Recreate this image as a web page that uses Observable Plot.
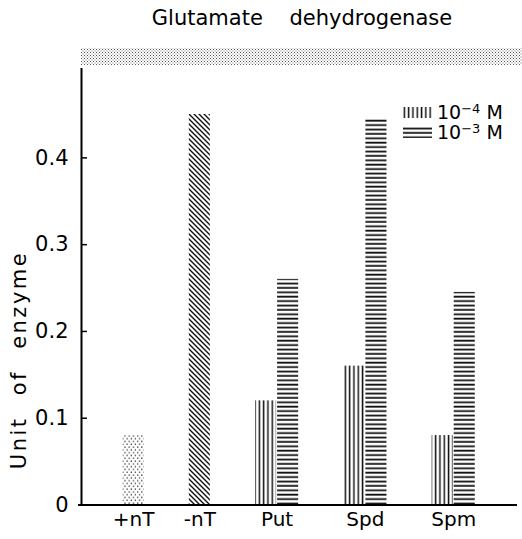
<!DOCTYPE html>
<html><head><meta charset="utf-8">
<script src="https://cdn.jsdelivr.net/npm/d3@7"></script>
<script src="https://cdn.jsdelivr.net/npm/@observablehq/plot@0.6"></script>
<style>
body{margin:0;background:#fff;font-family:"DejaVu Sans",sans-serif;color:#000;}
#wrap{position:relative;width:522px;height:539px;overflow:hidden;}
#title{position:absolute;left:82px;width:440px;top:6px;text-align:center;font-size:21px;word-spacing:20px;white-space:nowrap;}
#chart{position:absolute;left:0;top:40px;}
#ylabel{position:absolute;left:19px;top:360px;transform:translate(-50%,-50%) rotate(-90deg);font-size:21px;letter-spacing:2.5px;word-spacing:12px;white-space:nowrap;}
.lrow{position:absolute;left:403px;height:16px;display:flex;align-items:center;font-size:19px;line-height:16px;white-space:nowrap;}
.lrow svg{margin-right:5px;flex:none;}
.lrow sup{font-size:13px;position:relative;top:-6px;vertical-align:baseline;line-height:0;}
</style></head>
<body>
<svg width="0" height="0" style="position:absolute">
<defs>
<pattern id="pat-stip" width="4.2" height="5.6" patternUnits="userSpaceOnUse">
<rect x="0.5" y="0.5" width="1.2" height="1.2" fill="#111"/><rect x="2.6" y="3.3" width="1.2" height="1.2" fill="#111"/>
</pattern>
<pattern id="pat-diag" width="5" height="5" patternUnits="userSpaceOnUse">
<path d="M-1,-1L6,6M-1,4L1,6M4,-1L6,1" stroke="#111" stroke-width="1.4"/>
</pattern>
<pattern id="pat-vert" width="4.3" height="4" patternUnits="userSpaceOnUse">
<rect x="0.6" y="0" width="1.5" height="4" fill="#111"/>
</pattern>
<pattern id="pat-horz" width="4" height="4.4" patternUnits="userSpaceOnUse">
<rect x="0" y="0.6" width="4" height="1.8" fill="#111"/>
</pattern>
<pattern id="pat-band" width="3" height="3" patternUnits="userSpaceOnUse">
<rect x="0" y="0" width="1" height="1" fill="#555"/><rect x="1.5" y="1.5" width="1" height="1" fill="#777"/>
</pattern>
</defs></svg>
<div id="wrap">
<div id="title">Glutamate dehydrogenase</div>
<div id="chart"></div>
<div id="ylabel">Unit of enzyme</div>
<div class="lrow" style="top:104px"><svg width="29" height="11"><rect width="29" height="11" fill="url(#pat-vert)"/></svg><span>10<sup>−4</sup> M</span></div>
<div class="lrow" style="top:124px"><svg width="29" height="11"><rect width="29" height="11" fill="url(#pat-horz)"/></svg><span>10<sup>−3</sup> M</span></div>
</div>
<script>
// ---- data ----
const categories = ["+nT", "-nT", "Put", "Spd", "Spm"];
const controlValues = [0.08, 0.45];          // +nT, -nT
const concentrations = ["1e-4", "1e-3"];
const values1e4 = [0.12, 0.16, 0.08];        // Put, Spd, Spm at 10^-4 M
const values1e3 = [0.26, 0.445, 0.245];      // Put, Spd, Spm at 10^-3 M
const yTicks = [0, 0.1, 0.2, 0.3, 0.4];

// ---- layout (slot grid) ----
const rows = [];
const labels = [];
controlValues.forEach((v, i) => {
  const slot = 2 + 3 * i;
  rows.push({cat: categories[i], series: categories[i], slot, value: v});
  labels.push({cat: categories[i], pos: slot + 0.5});
});
[values1e4, values1e3].forEach((vals, s) => vals.forEach((v, j) => {
  rows.push({cat: categories[2 + j], series: concentrations[s], slot: 8 + 4 * j + s, value: v});
}));
categories.slice(2).forEach((c, j) => labels.push({cat: c, pos: 8 + 4 * j + 1}));

const patternOf = {"+nT": "url(#pat-stip)", "-nT": "url(#pat-diag)", "1e-4": "url(#pat-vert)", "1e-3": "url(#pat-horz)"};

const W = 522, H = 499, mL = 81, mR = 5, mT = 28, mB = 34.5;
const xDomain = [0.14, 19.89];
const yMax = 0.503;

const chart = Plot.plot({
  width: W, height: H,
  marginLeft: mL, marginRight: mR, marginTop: mT, marginBottom: mB,
  x: {type: "linear", domain: xDomain, axis: null},
  y: {domain: [0, yMax], axis: null},
  color: {type: "identity"},
  style: {fontFamily: "DejaVu Sans", fontSize: "20px", background: "white", color: "black", overflow: "visible"},
  marks: [
    Plot.rect([yMax], {x1: xDomain[0], x2: xDomain[1] + 0.3, y1: d => d * 1.007, y2: d => d * 1.046, fill: "url(#pat-band)"}),
    Plot.rectY(rows, {x1: "slot", x2: d => d.slot + 1, y: "value", fill: d => patternOf[d.series], insetLeft: 0.5, insetRight: 0.5}),
    Plot.ruleX([xDomain[0]], {strokeWidth: 2}),
    Plot.ruleY([0], {strokeWidth: 2, insetLeft: -3}),
    Plot.ruleY(yTicks.filter(d => d > 0), {strokeWidth: 1.5, insetRight: W - mL - mR - 6}),
    Plot.axisY(yTicks, {tickSize: 0, tickPadding: 13, tickFormat: d => d === 0 ? "0" : d.toFixed(1), fontSize: 21, label: null}),
    Plot.text(labels, {x: "pos", text: "cat", frameAnchor: "bottom", dy: 21, fontSize: 20})
  ]
});
document.getElementById("chart").appendChild(chart);
</script>
</body></html>
